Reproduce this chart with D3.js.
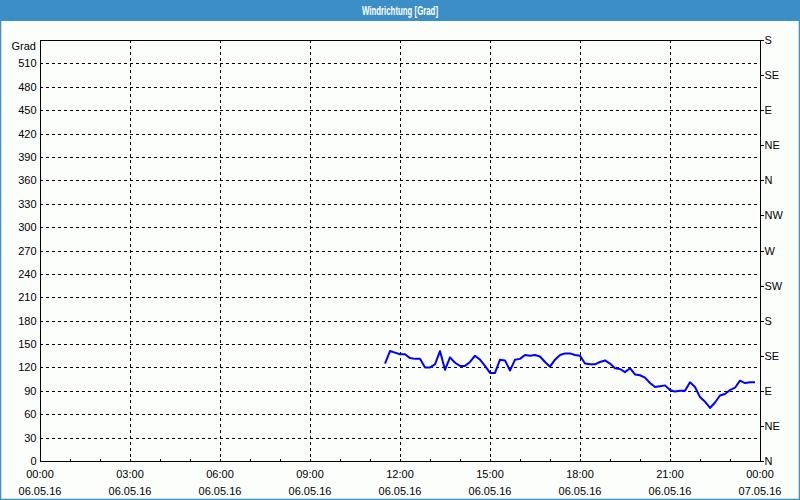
<!DOCTYPE html>
<html><head><meta charset="utf-8">
<script src="https://cdn.jsdelivr.net/npm/d3@7"></script>
<style>
html,body{margin:0;padding:0;background:#fff;}
svg{display:block;}
text{font-family:"Liberation Sans",Arial,sans-serif;font-size:11px;fill:#000;}
</style></head><body>
<svg id="c" width="800" height="500"></svg>
<script>
const title = "Windrichtung [Grad]";
const unitLabel = "Grad";
const dateLabels = ["06.05.16","06.05.16","06.05.16","06.05.16","06.05.16","06.05.16","06.05.16","06.05.16","07.05.16"];
const hourLabels = ["00:00","03:00","06:00","09:00","12:00","15:00","18:00","21:00","00:00"];
const leftTicks = [0,30,60,90,120,150,180,210,240,270,300,330,360,390,420,450,480,510];
const rightTicks = [0,45,90,135,180,225,270,315,360,405,450,495,540];
const rightLabels = ["N","NE","E","SE","S","SW","W","NW","N","NE","E","SE","S"];
const times = ["11:30","11:40","11:50","12:00","12:10","12:20","12:30","12:40","12:50","13:00","13:10","13:20","13:30","13:40","13:50",
"14:00","14:10","14:20","14:30","14:40","14:50","15:00","15:10","15:20","15:30","15:40","15:50",
"16:00","16:10","16:20","16:30","16:40","16:50","17:00","17:10","17:20","17:30","17:40","17:50",
"18:00","18:10","18:20","18:30","18:40","18:50","19:00","19:10","19:20","19:30","19:40","19:50",
"20:00","20:10","20:20","20:30","20:40","20:50","21:00","21:10","21:20","21:30","21:40","21:50",
"22:00","22:10","22:20","22:30","22:40","22:50","23:00","23:10","23:20","23:30","23:40","23:50"];
const values = [125,141,139,137,137,132,131,131,120,120,124,141,117,133,126,
122,122,127,135,130,122,113,113,130,129,116,130,
131,136,135,136,134,127,121,130,136,138,138,136,
135,125,124,124,127,129,125,119,118,114,119,111,
110,107,100,95,96,97,91,89,90,90,101,95,
82,76,68,75,84,86,91,94,103,100,101,101];

const svg = d3.select("#c");
const W=800,H=500, L=40, R=760, T=40, B=461;
const blue="#3c8fc6";

svg.append("rect").attr("x",0).attr("y",0).attr("width",W).attr("height",H).attr("fill","#fcfefc");
svg.append("rect").attr("x",0).attr("y",0).attr("width",W).attr("height",21).attr("fill",blue);
svg.append("rect").attr("x",0.5).attr("y",0.5).attr("width",W-1).attr("height",H-1).attr("fill","none").attr("stroke",blue).attr("stroke-width",1.5);
svg.append("text").attr("x",W/2).attr("y",10.5).attr("text-anchor","middle").attr("dominant-baseline","central")
  .style("fill","#fff").style("font-weight","bold").style("font-size","12.5px")
  .attr("textLength",76).attr("lengthAdjust","spacingAndGlyphs").text(title);

const parse = d3.timeParse("%Y-%m-%d %H:%M");
const t0 = parse("2016-05-06 00:00"), t1 = parse("2016-05-07 00:00");
const x = d3.scaleTime().domain([t0,t1]).range([L,R]);
const y = d3.scaleLinear().domain([0,540]).range([B,T]);

// grid
const hGrid = leftTicks.filter(d=>d>0);
svg.append("g").selectAll("line").data(hGrid).join("line")
  .attr("x1",L).attr("x2",R).attr("y1",d=>Math.round(y(d))+0.5).attr("y2",d=>Math.round(y(d))+0.5)
  .attr("stroke","#000").attr("stroke-dasharray","3,3").attr("shape-rendering","crispEdges");
const vTicks = d3.timeHour.every(3).range(t0,t1).slice(1);
svg.append("g").selectAll("line").data(vTicks).join("line")
  .attr("x1",d=>Math.round(x(d))+0.5).attr("x2",d=>Math.round(x(d))+0.5).attr("y1",T).attr("y2",B)
  .attr("stroke","#000").attr("stroke-dasharray","3,3").attr("shape-rendering","crispEdges");

// frame
svg.append("rect").attr("x",L+0.5).attr("y",T+0.5).attr("width",R-L).attr("height",B-T)
  .attr("fill","none").attr("stroke","#000").attr("shape-rendering","crispEdges");

// left axis
const gl = svg.append("g").attr("transform",`translate(${L+0.5},0)`)
  .call(d3.axisLeft(y).tickValues(leftTicks).tickSize(0).tickPadding(4).tickFormat(d3.format("d")));
gl.select(".domain").remove();
gl.selectAll("text").style("font-family","Liberation Sans, Arial, sans-serif").style("font-size","11px").attr("fill","#000");
svg.append("text").attr("x",L-4).attr("y",46).attr("text-anchor","end").attr("dominant-baseline","central").text(unitLabel);

// right axis
const gr = svg.append("g").attr("transform",`translate(${R+0.5},0)`)
  .call(d3.axisRight(y).tickValues(rightTicks).tickSize(3).tickPadding(1).tickFormat((d,i)=>rightLabels[i]));
gr.select(".domain").remove();
gr.selectAll("line").attr("stroke","#000").attr("shape-rendering","crispEdges");
gr.selectAll("text").style("font-family","Liberation Sans, Arial, sans-serif").style("font-size","11px").attr("fill","#000");

// bottom axis minor ticks (inside)
const hourTicks = d3.timeHour.every(1).range(t0,t1).slice(1);
svg.append("g").attr("transform",`translate(0,${B+0.5})`)
  .call(d3.axisTop(x).tickValues(hourTicks).tickSize(3).tickFormat(""))
  .call(g=>{g.select(".domain").remove(); g.selectAll("line").attr("stroke","#000").attr("shape-rendering","crispEdges");});
const labelTicks = d3.timeHour.every(3).range(t0,d3.timeMinute.offset(t1,1));
const gb = svg.append("g").attr("transform",`translate(0,${B})`);
gb.selectAll("text.h").data(labelTicks).join("text").attr("class","h")
  .attr("x",d=>x(d)).attr("y",13).attr("text-anchor","middle").attr("dominant-baseline","central").text((d,i)=>hourLabels[i]);
gb.selectAll("text.d").data(labelTicks).join("text").attr("class","d")
  .attr("x",d=>x(d)).attr("y",29.5).attr("text-anchor","middle").attr("dominant-baseline","central").text((d,i)=>dateLabels[i]);

// data
const data = times.map((t,i)=>({t:parse("2016-05-06 "+t), v:values[i]}));
svg.append("path").datum(data)
  .attr("d", d3.line().x(d=>x(d.t)).y(d=>y(d.v)))
  .attr("fill","none").attr("stroke","#0000ff").attr("stroke-width",2).attr("stroke-linejoin","round");
</script>
</body></html>
